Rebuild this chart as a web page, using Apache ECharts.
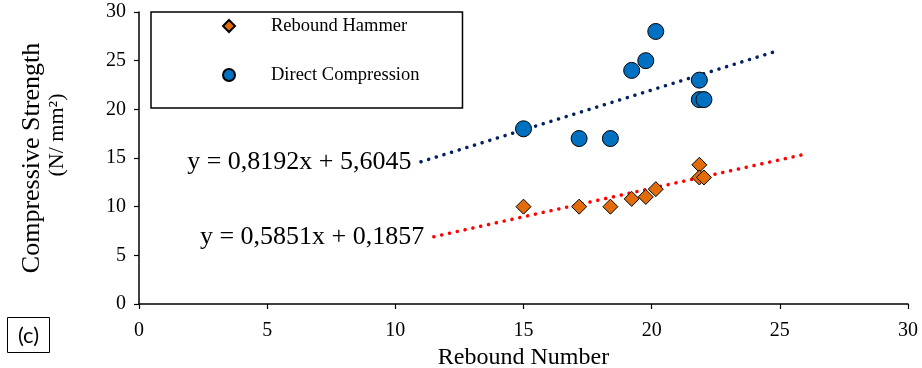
<!DOCTYPE html>
<html>
<head>
<meta charset="utf-8">
<script src="https://cdn.jsdelivr.net/npm/echarts@6/dist/echarts.min.js"></script>
<style>
html,body{margin:0;padding:0;background:#fff;}
#chart{width:922px;height:368px;}
</style>
</head>
<body>
<div id="chart"></div>
<script>
// Data
const reboundNumber = [15, 17.17, 18.39, 19.22, 19.77, 20.16, 21.86, 21.86, 22.04];
const reboundHammer = [10, 10, 10, 10.8, 11.0, 11.8, 14.3, 13.0, 13.0];
const directCompression = [18, 17, 17, 24, 25, 28, 23, 21, 21];
// Trendlines (Excel linear fits shown on chart)
const trendDirect = { slope: 0.8192, intercept: 5.6045, from: 11, to: 25, label: 'y = 0,8192x + 5,6045' };
const trendHammer = { slope: 0.5851, intercept: 0.1857, from: 11.5, to: 26.04, label: 'y = 0,5851x + 0,1857' };
const xTicks = [0, 5, 10, 15, 20, 25, 30];
const yTicks = [0, 5, 10, 15, 20, 25, 30];

const serif = 'Liberation Serif';
function pairs(xs, ys) { return xs.map((x, i) => [x, ys[i]]); }
function trendData(t) {
  const a = [t.from, t.slope * t.from + t.intercept];
  const b = [t.to, t.slope * t.to + t.intercept];
  return [
    { value: a, label: { show: true, position: 'left', distance: 9, formatter: t.label,
        fontFamily: serif, fontSize: 26, color: '#000' } },
    { value: b }
  ];
}

const chart = echarts.init(document.getElementById('chart'), null, { renderer: 'canvas' });
chart.setOption({
  animation: false,
  backgroundColor: '#fff',
  grid: { left: 139, right: 14, top: 12, bottom: 64, containLabel: false, outerBoundsMode: 'none' },
  xAxis: {
    type: 'value', min: xTicks[0], max: xTicks[xTicks.length - 1], interval: 5,
    name: 'Rebound Number', nameLocation: 'middle', nameGap: 33,
    nameTextStyle: { fontFamily: serif, fontSize: 24, color: '#000' },
    axisLine: { lineStyle: { color: '#000', width: 1.5 } },
    axisTick: { show: true, length: 5, lineStyle: { color: '#000', width: 1.2 } },
    axisLabel: { fontFamily: serif, fontSize: 20, color: '#000', margin: 17 },
    splitLine: { show: false }
  },
  yAxis: {
    type: 'value', min: yTicks[0], max: yTicks[yTicks.length - 1], interval: 5,
    name: '{a|Compressive Strength}\n{b|(N/ mm²)}', nameLocation: 'middle', nameGap: 70, nameRotate: 90,
    nameTextStyle: { fontFamily: serif, color: '#000',
      rich: { a: { fontFamily: serif, fontSize: 26, lineHeight: 26, color: '#000' },
              b: { fontFamily: serif, fontSize: 22, lineHeight: 24, color: '#000', padding: [0, 0, 0, 46] } } },
    axisLine: { show: true, lineStyle: { color: '#000', width: 1.5 } },
    axisTick: { show: true, length: 5, lineStyle: { color: '#000', width: 1.2 } },
    axisLabel: { fontFamily: serif, fontSize: 20, color: '#000', margin: 13 },
    splitLine: { show: false }
  },
  legend: {
    data: ['Rebound Hammer', 'Direct Compression'],
    orient: 'vertical', left: 151, top: 12,
    padding: [4, 43, 23, 71],
    itemWidth: 12, itemHeight: 12, itemGap: 29,
    borderColor: '#000', borderWidth: 1.5,
    selectedMode: false,
    textStyle: { fontFamily: serif, fontSize: 18.5, lineHeight: 20, color: '#000', padding: [0, 0, 0, 31] }
  },
  graphic: [{
    type: 'group', left: 7, top: 317,
    children: [
      { type: 'rect', shape: { x: 0, y: 0, width: 42, height: 35 },
        style: { fill: '#fff', stroke: '#000', lineWidth: 1 } },
      { type: 'text', x: 21, y: 18,
        style: { text: '(c)', fontFamily: 'Lato', fontSize: 22, fill: '#000', align: 'center', verticalAlign: 'middle' } }
    ]
  }],
  series: [
    {
      name: 'Direct Trend', type: 'line', data: trendData(trendDirect),
      symbol: 'circle', symbolSize: 1, showSymbol: true,
      itemStyle: { color: 'rgba(0,0,0,0)' },
      lineStyle: { color: '#002060', width: 3.5, type: [0.1, 7.9], cap: 'round' },
      silent: true, z: 1
    },
    {
      name: 'Hammer Trend', type: 'line', data: trendData(trendHammer),
      symbol: 'circle', symbolSize: 1, showSymbol: true,
      itemStyle: { color: 'rgba(0,0,0,0)' },
      lineStyle: { color: '#FF0000', width: 3.5, type: [0.1, 7.9], cap: 'round' },
      silent: true, z: 1
    },
    {
      name: 'Rebound Hammer', type: 'scatter', data: pairs(reboundNumber, reboundHammer),
      symbol: 'diamond', symbolSize: 15,
      itemStyle: { color: '#E36C0A', borderColor: '#000', borderWidth: 1, opacity: 1 },
      z: 3
    },
    {
      name: 'Direct Compression', type: 'scatter', data: pairs(reboundNumber, directCompression),
      symbol: 'circle', symbolSize: 16,
      itemStyle: { color: '#0070C0', borderColor: '#000', borderWidth: 1, opacity: 1 },
      z: 3
    }
  ]
});
</script>
</body>
</html>
